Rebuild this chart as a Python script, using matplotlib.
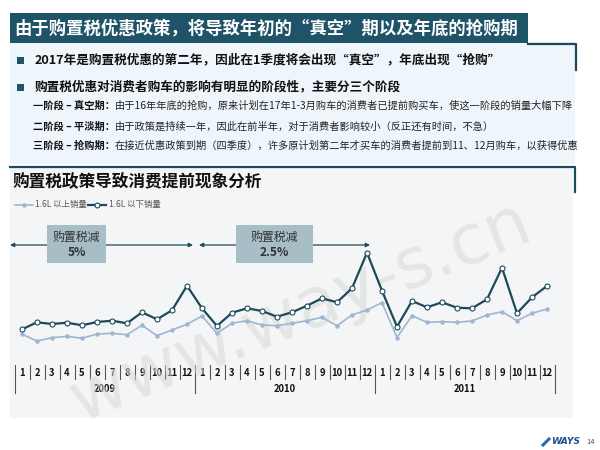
import matplotlib
matplotlib.use("Agg")
import matplotlib.pyplot as plt
from matplotlib.patches import Rectangle
from matplotlib.lines import Line2D

plt.rcParams['font.family'] = ['Noto Sans CJK SC', 'DejaVu Sans']

# ---------------- data ----------------
years = ["2009", "2010", "2011"]
months = [str(m) for m in range(1, 13)]
above_16 = [25.7, 19, 22.3, 23.7, 21.7, 26, 26.7, 25.3, 34.7, 24.3, 30, 35.7,
            44, 26.7, 36.7, 39.3, 35, 34.3, 36.7, 39.3, 42.7, 34.3, 45, 50,
            57.3, 22.5, 44.3, 37.7, 38.3, 37.7, 39, 45, 48.3, 39.3, 46.7, 51]
below_16 = [30.7, 37.7, 36, 37.3, 34.7, 38, 39.3, 36.7, 47.7, 40.7, 49.7, 74.3,
            51.7, 34, 47.3, 51.7, 49, 43.3, 47.7, 54.3, 61.7, 57.7, 71.7, 107.3,
            69.3, 33.3, 59, 52.7, 57.7, 52.3, 51.7, 60.7, 92.3, 46.7, 62.7, 74]
legend_labels = ["1.6L 以上销量", "1.6L 以下销量"]
title = "由于购置税优惠政策，将导致年初的“真空”期以及年底的抢购期"
bullets = ["2017年是购置税优惠的第二年，因此在1季度将会出现“真空”，年底出现“抢购”",
           "购置税优惠对消费者购车的影响有明显的阶段性，主要分三个阶段"]
stage_heads = ["一阶段 – 真空期：", "二阶段 – 平淡期：", "三阶段 – 抢购期："]
stage_texts = ["由于16年年底的抢购，原来计划在17年1-3月购车的消费者已提前购买车，使这一阶段的销量大幅下降",
               "由于政策是持续一年，因此在前半年，对于消费者影响较小（反正还有时间，不急）",
               "在接近优惠政策到期（四季度），许多原计划第二年才买车的消费者提前到11、12月购车，以获得优惠"]
chart_title = "购置税政策导致消费提前现象分析"
box_texts = [("购置税减", "5%"), ("购置税减", "2.5%")]

# ---------------- colours ----------------
DARK = "#1C4A5A"
BAR = "#1E5368"
LIGHT = "#9FB6D2"
PANEL = "#EEF5FB"
CHART_BG = "#F4F5F6"
BOX = "#A8BEC6"

fig = plt.figure(figsize=(6, 4.5), dpi=100)
fig.patch.set_facecolor("white")

# overlay in pixel coordinates
ov = fig.add_axes([0, 0, 1, 1])
ov.set_xlim(0, 600)
ov.set_ylim(450, 0)
ov.axis("off")

# watermark
ov.text(300, 312, "www.way-s.cn", fontsize=50, color="#D8D8D8", alpha=0.55,
        rotation=22, ha="center", va="center", family="DejaVu Sans", zorder=30)

# top panel
ov.add_patch(Rectangle((10, 42), 565, 122, facecolor=PANEL, edgecolor="none", zorder=1))
ov.add_patch(Rectangle((10, 13), 518, 30, facecolor=BAR, edgecolor="none", zorder=2))
ov.text(14, 28.5, title, color="white", fontsize=12.5, fontweight="bold",
        ha="left", va="center", zorder=3)
ov.plot([528, 576, 576], [44, 44, 70], color=DARK, lw=1.6, zorder=3)

for yb, txt in zip([60, 87], bullets):
    ov.add_patch(Rectangle((17, yb - 3.5), 7, 7, facecolor=BAR, edgecolor="none", zorder=3))
    ov.text(35, yb, txt, fontsize=9.1, fontweight="bold", color="#111111",
            ha="left", va="center", zorder=3)

for ys, head, body in zip([106, 127, 146], stage_heads, stage_texts):
    t = ov.text(33, ys, head, fontsize=7.35, fontweight="bold", color="#111111",
                ha="left", va="center", zorder=3)
    fig.canvas.draw()
    bb = t.get_window_extent()
    ov.text(33 + bb.width, ys, body, fontsize=7.35, color="#222222",
            ha="left", va="center", zorder=3)

# chart section
ov.add_patch(Rectangle((10, 168), 563, 250, facecolor=CHART_BG, edgecolor="none", zorder=1))
ov.plot([10, 575, 575], [167, 167, 192], color=DARK, lw=1.6, zorder=3)
ov.text(12, 182, chart_title, fontsize=12, fontweight="bold", color="#111111",
        ha="left", va="center", zorder=3)

# legend
ov.add_line(Line2D([15, 20, 24, 28, 33], [205] * 5, color=LIGHT, lw=1.2, marker="o",
                   markersize=2.2, markevery=[2], zorder=3))
ov.text(35, 205, legend_labels[0], fontsize=6, color="#555555", ha="left", va="center", zorder=3)
ov.add_line(Line2D([88, 97, 106], [205, 205, 205], color=DARK, lw=1.6, marker="o",
                   markersize=3.5, markerfacecolor="white", markeredgecolor=DARK,
                   markeredgewidth=0.8, markevery=[1], zorder=3))
ov.text(109, 205, legend_labels[1], fontsize=6, color="#555555", ha="left", va="center", zorder=3)

# arrows and boxes
for x0, x1 in [(10, 193), (199, 370)]:
    ov.annotate("", xy=(x1, 245), xytext=(x0, 245),
                arrowprops=dict(arrowstyle="<|-|>", color=DARK, lw=0.9,
                                mutation_scale=6, shrinkA=0, shrinkB=0), zorder=4)
for (bx0, bx1), (t1, t2) in zip([(47, 106), (236, 313)], box_texts):
    ov.add_patch(Rectangle((bx0, 225), bx1 - bx0, 38, facecolor=BOX, edgecolor="none", zorder=5))
    cx = (bx0 + bx1) / 2
    ov.text(cx, 237, t1, fontsize=8.6, color="#333333", ha="center", va="center", zorder=6)
    ov.text(cx, 252, t2, fontsize=8.6, fontweight="bold", color="#333333",
            ha="center", va="center", zorder=6)

# x-axis table
n = len(years) * len(months)
for i in range(n + 1):
    xs = 14.5 + 15 * i
    if i % 12 == 0:
        ov.plot([xs, xs], [365, 393], color="#555555", lw=0.8, zorder=3)
    else:
        ov.plot([xs, xs], [365, 379], color="#555555", lw=0.8, zorder=3)
for i in range(n):
    ov.text(22 + 15 * i, 373, months[i % 12], fontsize=6.8, fontweight="bold",
            color="#111111", ha="center", va="center", zorder=3)
for k, yr in enumerate(years):
    ov.text(14.5 + 180 * k + 90, 389, yr, fontsize=6.8, fontweight="bold",
            color="#111111", ha="center", va="center", zorder=3)

# footer
ov.plot([543, 549], [445, 439], color="#2A6CA6", lw=2.2, zorder=3)
ov.text(551, 442, "WAYS", fontsize=6.6, fontweight="bold", style="italic",
        color="#1F4E8A", ha="left", va="center", family="DejaVu Sans", zorder=3)
ov.text(591, 442, "14", fontsize=5.5, color="#555555", ha="center", va="center", zorder=3)

# data axes: x from 14.5 to 554.5 px, y from 230 to 360 px
ax = fig.add_axes([14.5 / 600, (450 - 360) / 450, 540 / 600, 130 / 450])
ax.set_xlim(-0.5, n - 0.5)
ax.set_ylim(0, 130)
ax.patch.set_alpha(0)
ax.axis("off")
x = list(range(n))
ax.plot(x, above_16, color=LIGHT, lw=1.2, marker="o", markersize=2.2,
        markerfacecolor=LIGHT, markeredgecolor=LIGHT, zorder=3)
ax.plot(x, below_16, color=DARK, lw=1.6, marker="o", markersize=3.6,
        markerfacecolor="white", markeredgecolor=DARK, markeredgewidth=0.8, zorder=4)

fig.savefig("out.png", dpi=100)
